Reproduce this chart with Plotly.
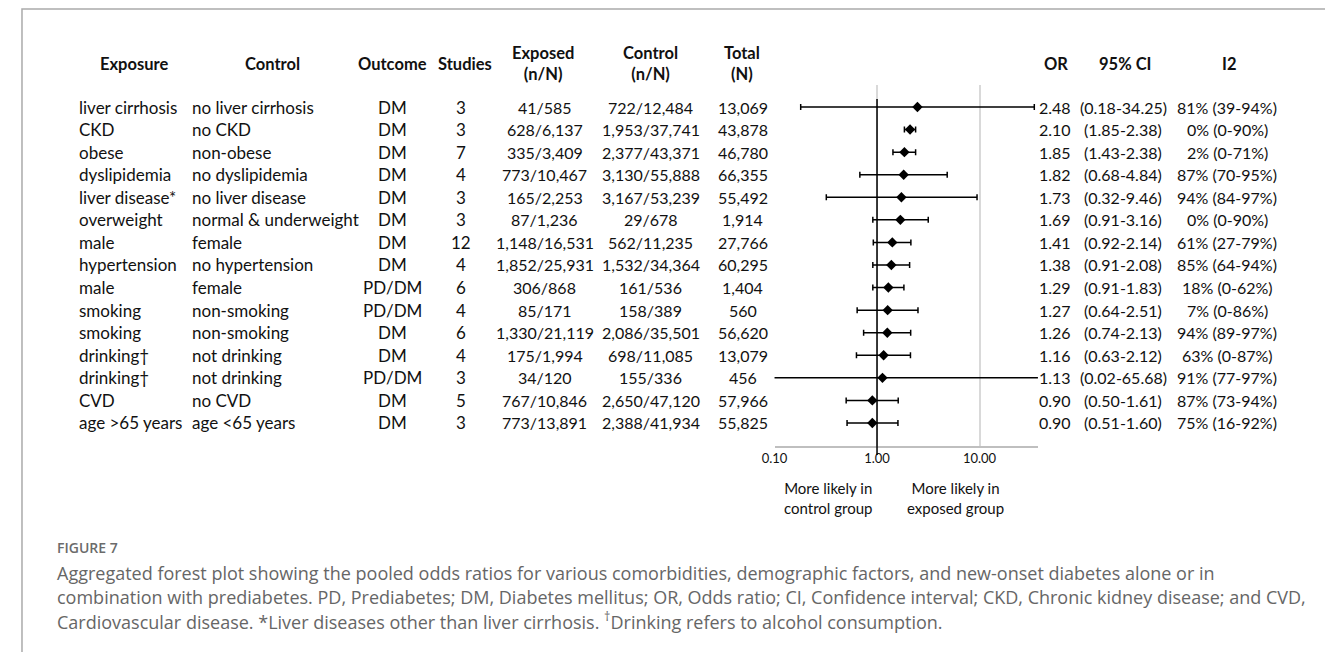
import plotly.graph_objects as go

exposure = ["liver cirrhosis", "CKD", "obese", "dyslipidemia", "liver disease*", "overweight",
            "male", "hypertension", "male", "smoking", "smoking", "drinking†", "drinking†",
            "CVD", "age >65 years"]
control = ["no liver cirrhosis", "no CKD", "non-obese", "no dyslipidemia", "no liver disease",
           "normal & underweight", "female", "no hypertension", "female", "non-smoking",
           "non-smoking", "not drinking", "not drinking", "no CVD", "age <65 years"]
outcome = ["DM", "DM", "DM", "DM", "DM", "DM", "DM", "DM", "PD/DM", "PD/DM", "DM", "DM",
           "PD/DM", "DM", "DM"]
studies = [3, 3, 7, 4, 3, 3, 12, 4, 6, 4, 6, 4, 3, 5, 3]
exposed_nN = ["41/585", "628/6,137", "335/3,409", "773/10,467", "165/2,253", "87/1,236",
              "1,148/16,531", "1,852/25,931", "306/868", "85/171", "1,330/21,119",
              "175/1,994", "34/120", "767/10,846", "773/13,891"]
control_nN = ["722/12,484", "1,953/37,741", "2,377/43,371", "3,130/55,888", "3,167/53,239",
              "29/678", "562/11,235", "1,532/34,364", "161/536", "158/389", "2,086/35,501",
              "698/11,085", "155/336", "2,650/47,120", "2,388/41,934"]
total_N = ["13,069", "43,878", "46,780", "66,355", "55,492", "1,914", "27,766", "60,295",
           "1,404", "560", "56,620", "13,079", "456", "57,966", "55,825"]
odds_ratio = [2.48, 2.10, 1.85, 1.82, 1.73, 1.69, 1.41, 1.38, 1.29, 1.27, 1.26, 1.16, 1.13, 0.90, 0.90]
ci_low = [0.18, 1.85, 1.43, 0.68, 0.32, 0.91, 0.92, 0.91, 0.91, 0.64, 0.74, 0.63, 0.02, 0.50, 0.51]
ci_high = [34.25, 2.38, 2.38, 4.84, 9.46, 3.16, 2.14, 2.08, 1.83, 2.51, 2.13, 2.12, 65.68, 1.61, 1.60]
i2 = ["81% (39-94%)", "0% (0-90%)", "2% (0-71%)", "87% (70-95%)", "94% (84-97%)",
      "0% (0-90%)", "61% (27-79%)", "85% (64-94%)", "18% (0-62%)", "7% (0-86%)",
      "94% (89-97%)", "63% (0-87%)", "91% (77-97%)", "87% (73-94%)", "75% (16-92%)"]
x_ticks = [0.1, 1, 10]
x_tick_labels = ["0.10", "1.00", "10.00"]

# page body has an 8px margin; lay out in page pixel coordinates and shift
OFF = 8
W, H = 1333 - OFF, 652 - OFF
rows = list(range(len(exposure)))
FONT = "Lato"
TXT = "#111111"


def px(x):
    return (x - OFF) / W


def py(y):
    return 1 - (y - OFF) / H


fig = go.Figure()
fig.add_trace(go.Scatter(
    x=odds_ratio, y=rows, mode="markers",
    marker=dict(symbol="diamond", size=8, color="black"),
    error_x=dict(type="data", symmetric=False,
                 array=[h - o for h, o in zip(ci_high, odds_ratio)],
                 arrayminus=[o - l for o, l in zip(odds_ratio, ci_low)],
                 color="black", thickness=1.5, width=3),
    showlegend=False, hoverinfo="skip"))

ann = []


def col(values, x, anchor, size=17):
    for r, v in zip(rows, values):
        ann.append(dict(x=px(x), xref="paper", y=r, yref="y", text=str(v), showarrow=False,
                        xanchor=anchor, yanchor="middle",
                        font=dict(family=FONT, size=size, color=TXT)))


col(exposure, 65, "left")
col(control, 179, "left")
col(outcome, 383, "center")
col(studies, 452, "center")
col(exposed_nN, 537, "center", 16)
col(control_nN, 644, "center", 16)
col(total_N, 737, "center", 16)
col([f"{v:.2f}" for v in odds_ratio], 1052, "center", 16)
col([f"({l:.2f}-{h:.2f})" for l, h in zip(ci_low, ci_high)], 1121, "center", 16)
col(i2, 1226, "center", 16)

headers = [("Exposure", 122), ("Control", 262), ("Outcome", 383), ("Studies", 456),
           ("Exposed<br>(n/N)", 535), ("Control<br>(n/N)", 644), ("Total<br>(N)", 736),
           ("OR", 1053), ("95% CI", 1123), ("I2", 1228)]
for t, x in headers:
    ann.append(dict(x=px(x), xref="paper", y=py(64), yref="paper", text=f"<b>{t}</b>",
                    showarrow=False, xanchor="center", yanchor="middle",
                    font=dict(family=FONT, size=16.5, color=TXT)))

for t, x in [("More likely in<br>control group", 823), ("More likely in<br>exposed group", 952)]:
    ann.append(dict(x=px(x), xref="paper", y=py(498), yref="paper", text=t,
                    showarrow=False, xanchor="center", yanchor="middle",
                    font=dict(family=FONT, size=15, color=TXT)))

CAP = "Open Sans"
ann.append(dict(x=px(42), xref="paper", y=py(547), yref="paper", text="FIGURE 7",
                showarrow=False, xanchor="left", yanchor="middle",
                font=dict(family=CAP, size=14, color="#6b6b6b", weight=600)))
cap_lines = [
    "Aggregated forest plot showing the pooled odds ratios for various comorbidities, demographic factors, and new-onset diabetes alone or in",
    "combination with prediabetes. PD, Prediabetes; DM, Diabetes mellitus; OR, Odds ratio; CI, Confidence interval; CKD, Chronic kidney disease; and CVD,",
    "Cardiovascular disease. *Liver diseases other than liver cirrhosis. <sup>†</sup>Drinking refers to alcohol consumption.",
]
for i, t in enumerate(cap_lines):
    ann.append(dict(x=px(42), xref="paper", y=py(573 + 24 * i), yref="paper", text=t,
                    showarrow=False, xanchor="left", yanchor="middle",
                    font=dict(family=CAP, size=18, color="#666666")))

shapes = [
    # outer frame
    dict(type="rect", xref="paper", yref="paper", x0=px(9), x1=px(1331), y0=-0.1, y1=py(9),
         line=dict(color="#aaaaaa", width=1.5), fillcolor="rgba(0,0,0,0)", layer="below"),
    # reference line at OR = 1
    dict(type="line", xref="x", yref="paper", x0=1, x1=1, y0=py(455), y1=py(99),
         line=dict(color="black", width=1.5)),
]

fig.update_layout(
    width=W, height=H, margin=dict(l=0, r=0, t=0, b=0),
    paper_bgcolor="white", plot_bgcolor="white",
    annotations=ann, shapes=shapes,
    xaxis=dict(type="log", range=[-1, 1.57], domain=[px(769), px(1035)],
               tickvals=x_ticks, ticktext=x_tick_labels, showgrid=True,
               gridcolor="#d9d9d9", gridwidth=1.5, showline=True, linecolor="#bfbfbf",
               linewidth=1.5, ticks="", zeroline=False,
               tickfont=dict(family=FONT, size=13, color=TXT)),
    yaxis=dict(range=[15.02, -0.975], domain=[py(446), py(85)], visible=False),
)

fig.write_html("out.html")
